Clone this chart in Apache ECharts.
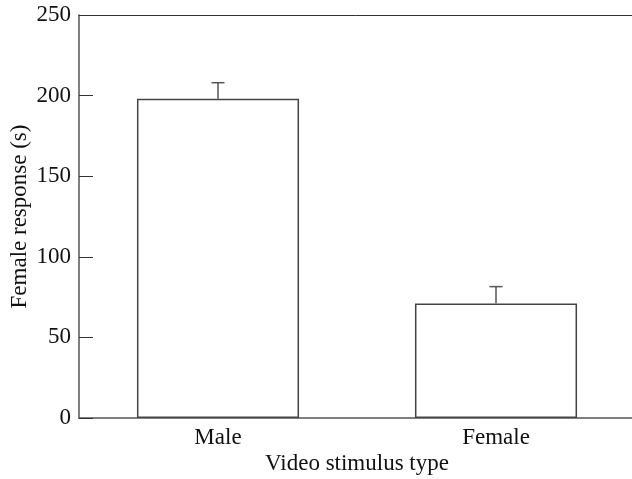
<!DOCTYPE html>
<html>
<head>
<meta charset="utf-8">
<script src="https://cdn.jsdelivr.net/npm/echarts@6/dist/echarts.min.js"></script>
<style>
html, body { margin: 0; padding: 0; background: #fff; }
#main { width: 632px; height: 479px; }
</style>
</head>
<body>
<div id="main"></div>
<script>
var categories = ['Male', 'Female'];
var means = [198, 71];
var upper = [208, 81.5];

var dom = document.getElementById('main');
var myChart = echarts.init(dom);
var font = 'Liberation Serif';
var axisColor = '#333';

var option = {
    backgroundColor: '#fff',
    animation: false,
    grid: { left: 79, right: -3, top: 15, bottom: 61, containLabel: false, outerBoundsMode: 'none' },
    xAxis: [
        {
            type: 'category',
            data: categories,
            name: 'Video stimulus type',
            nameLocation: 'middle',
            nameGap: 34,
            nameMoveOverlap: false,
            nameTextStyle: { fontFamily: font, fontSize: 23, color: '#111' },
            axisLine: { lineStyle: { color: '#555', width: 1.5 } },
            axisTick: { show: false },
            axisLabel: { fontFamily: font, fontSize: 23, color: '#111', margin: 8 }
        },
        {
            type: 'category',
            data: categories,
            position: 'top',
            axisLine: { lineStyle: { color: axisColor, width: 1 } },
            axisTick: { show: false },
            axisLabel: { show: false }
        }
    ],
    yAxis: {
        type: 'value',
        min: 0,
        max: 250,
        interval: 50,
        name: 'Female response (s)',
        nameLocation: 'middle',
        nameGap: 48,
        nameMoveOverlap: false,
        nameTextStyle: { fontFamily: font, fontSize: 23, color: '#111' },
        axisLine: { show: true, lineStyle: { color: '#555', width: 1.5 } },
        axisTick: { show: true, inside: true, length: 14, lineStyle: { color: '#333', width: 1 } },
        axisLabel: { fontFamily: font, fontSize: 23, color: '#111', margin: 8 },
        splitLine: { show: false }
    },
    series: [
        {
            type: 'bar',
            data: means,
            barWidth: '58.3%',
            itemStyle: { color: '#fff', borderColor: '#444', borderWidth: 1.5 }
        },
        {
            type: 'custom',
            data: categories.map(function (c, i) { return [i, means[i], upper[i]]; }),
            renderItem: function (params, api) {
                var base = api.coord([api.value(0), api.value(1)]);
                var top = api.coord([api.value(0), api.value(2)]);
                var half = 6.5;
                var style = { stroke: '#555', lineWidth: 1.5 };
                return {
                    type: 'group',
                    children: [
                        { type: 'line', shape: { x1: base[0], y1: base[1], x2: top[0], y2: top[1] }, style: style },
                        { type: 'line', shape: { x1: top[0] - half, y1: top[1], x2: top[0] + half, y2: top[1] }, style: style }
                    ]
                };
            },
            z: 3
        }
    ]
};

if (option && typeof option === 'object') {
    myChart.setOption(option, true);
}
</script>
</body>
</html>
